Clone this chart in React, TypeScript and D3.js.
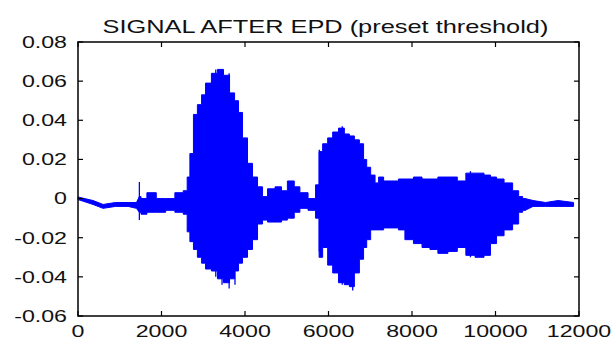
import React from "react";
import * as d3 from "d3";

// ---- data ----
const title = "SIGNAL AFTER EPD (preset threshold)";
const xTicks = [0, 2000, 4000, 6000, 8000, 10000, 12000];
const yTicks = [-0.06, -0.04, -0.02, 0, 0.02, 0.04, 0.06, 0.08];

// sample index of each envelope reading
const envT = [0, 360, 600, 900, 1200, 1400, 1470, 1550, 1750, 2000, 2200, 2440, 2600, 2630, 2730, 2800, 2920, 3000, 3110, 3280, 3400, 3570, 3690, 3810, 3880, 4000, 4120, 4240, 4360, 4480, 4600, 4840, 4910, 5120, 5240, 5390, 5630, 5750, 5800, 5920, 6040, 6160, 6320, 6440, 6560, 6680, 6800, 6880, 6950, 7070, 7160, 7240, 7400, 7640, 7710, 7950, 8120, 8360, 8500, 8740, 8980, 9190, 9390, 9630, 9820, 9940, 10110, 10300, 10520, 10590, 10710, 10900, 11200, 11500, 11870];
// upper envelope of the signal
const envUpper = [0.0008, -0.001, -0.003, -0.002, -0.002, -0.002, 0.001, 0.0, 0.003, 0.0, 0.0, 0.003, 0.004, 0.011, 0.023, 0.043, 0.048, 0.053, 0.059, 0.064, 0.066, 0.063, 0.054, 0.05, 0.044, 0.031, 0.018, 0.011, 0.006, 0.001, 0.005, 0.006, 0.004, 0.009, 0.006, 0.003, 0.0, 0.007, 0.024, 0.028, 0.031, 0.034, 0.036, 0.033, 0.032, 0.03, 0.028, 0.02, 0.016, 0.012, 0.008, 0.011, 0.009, 0.009, 0.01, 0.01, 0.011, 0.01, 0.01, 0.011, 0.011, 0.009, 0.013, 0.013, 0.012, 0.011, 0.01, 0.008, 0.004, 0.001, 0.0, -0.001, -0.002, -0.001, -0.002];
// lower envelope of the signal
const envLower = [-0.0005, -0.003, -0.005, -0.004, -0.004, -0.005, -0.007, -0.008, -0.007, -0.007, -0.006, -0.007, -0.008, -0.017, -0.022, -0.026, -0.03, -0.033, -0.036, -0.037, -0.041, -0.043, -0.041, -0.037, -0.033, -0.03, -0.026, -0.021, -0.013, -0.011, -0.012, -0.012, -0.011, -0.01, -0.007, -0.005, -0.006, -0.01, -0.03, -0.025, -0.034, -0.038, -0.043, -0.044, -0.045, -0.038, -0.031, -0.025, -0.021, -0.016, -0.016, -0.016, -0.015, -0.015, -0.016, -0.021, -0.023, -0.025, -0.026, -0.028, -0.027, -0.025, -0.029, -0.03, -0.029, -0.023, -0.019, -0.016, -0.013, -0.007, -0.006, -0.004, -0.004, -0.004, -0.004];

// isolated spikes reaching beyond the envelope
const spikeT = [1470, 3300, 3450, 3620, 3760, 5780, 6330, 6580, 9400];
const spikeHi = [0.0085, 0.066, 0.066, 0.064, 0.05, 0.025, 0.037, 0.032, 0.014];
const spikeLo = [-0.011, -0.04, -0.044, -0.046, -0.044, -0.027, -0.044, -0.047, -0.03];

// sample range of the voiced part (drawn with stepped, jagged edges)
const voicedStart = 1470;
const voicedEnd = 10710;

const W = 614, H = 341;
const left = 78, right = 579, top = 42, bottom = 316;
const BLUE = "#0000ff";
const SX = 1.45;

function SText({ x, y, anchor, size, children }: any) {
  return (
    <text
      transform={`translate(${x},${y}) scale(${SX},1)`}
      textAnchor={anchor}
      fontSize={size}
      fontFamily="'Liberation Sans', Arial, sans-serif"
      fill="#111"
    >
      {children}
    </text>
  );
}

export default function App() {
  const x = d3.scaleLinear().domain([0, 12000]).range([left, right]);
  const y = d3.scaleLinear().domain([-0.06, 0.08]).range([bottom, top]);

  const pts = envT.map((t, i) => ({ t, u: envUpper[i], l: envLower[i] }));
  const mk = (curve: any) =>
    d3
      .area<any>()
      .x((d) => x(d.t))
      .y0((d) => y(d.l))
      .y1((d) => y(d.u))
      .curve(curve);
  const headPts = pts.filter((p) => p.t <= voicedStart);
  const midPts = pts.filter((p) => p.t >= voicedStart && p.t <= voicedEnd);
  const tailPts = pts.filter((p) => p.t >= voicedEnd);
  const paths = [
    mk(d3.curveLinear)(headPts) as string,
    mk(d3.curveStep)(midPts) as string,
    mk(d3.curveLinear)(tailPts) as string,
  ];

  const tickLen = 5;

  return (
    <svg width={W} height={H} style={{ position: "absolute", left: 0, top: 0, background: "#fff" }}>
      <rect x={0} y={0} width={W} height={H} fill="#fff" />
      <SText x={325.5} y={32.5} anchor="middle" size={17.5}>
        {title}
      </SText>

      {paths.map((d, i) => (
        <path key={i} d={d} fill={BLUE} stroke={BLUE} strokeWidth={1} />
      ))}
      {spikeT.map((t, i) => (
        <line key={i} x1={x(t)} x2={x(t)} y1={y(spikeHi[i])} y2={y(spikeLo[i])} stroke={BLUE} strokeWidth={1.3} />
      ))}

      <rect x={left} y={top} width={right - left} height={bottom - top} fill="none" stroke="#000" strokeWidth={1.5} />

      {xTicks.map((t) => (
        <g key={"x" + t}>
          <line x1={x(t)} x2={x(t)} y1={bottom} y2={bottom - tickLen} stroke="#000" strokeWidth={1.2} />
          <line x1={x(t)} x2={x(t)} y1={top} y2={top + tickLen} stroke="#000" strokeWidth={1.2} />
          <SText x={x(t)} y={337} anchor="middle" size={16}>
            {String(t)}
          </SText>
        </g>
      ))}
      {yTicks.map((v) => (
        <g key={"y" + v}>
          <line x1={left} x2={left + tickLen} y1={y(v)} y2={y(v)} stroke="#000" strokeWidth={1.2} />
          <line x1={right} x2={right - tickLen} y1={y(v)} y2={y(v)} stroke="#000" strokeWidth={1.2} />
          <SText x={67} y={y(v) + 5.8} anchor="end" size={16}>
            {v === 0 ? "0" : v.toFixed(2)}
          </SText>
        </g>
      ))}
    </svg>
  );
}
